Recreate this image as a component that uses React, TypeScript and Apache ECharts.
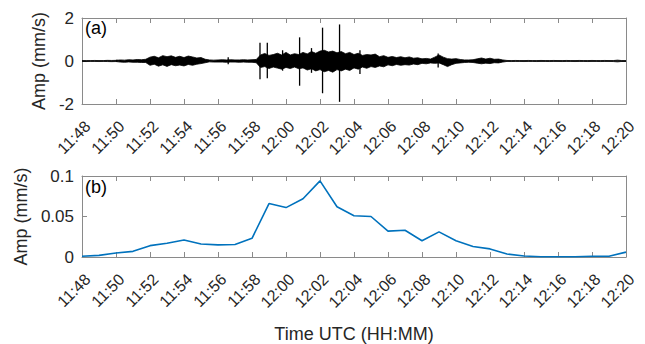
import React, { useEffect, useRef } from "react";
import * as echarts from "echarts";

// x tick labels (every 2 minutes from 11:48)
const tickLabels = [
  "11:48", "11:50", "11:52", "11:54", "11:56", "11:58", "12:00", "12:02", "12:04",
  "12:06", "12:08", "12:10", "12:12", "12:14", "12:16", "12:18", "12:20",
];

// (a) seismogram envelope, one value every 0.25 min from 11:48 (mm/s)
const waveStep = 0.25;
const waveUpper = [
  0.02, 0.02, 0.02, 0.025, 0.02, 0.02, 0.03, 0.025, 0.03,
  0.05, 0.04, 0.06, 0.05, 0.07, 0.06, 0.08,
  0.18, 0.22, 0.15, 0.25, 0.2, 0.24, 0.17, 0.22, 0.16, 0.23, 0.19, 0.14, 0.16, 0.08,
  0.05, 0.04, 0.05, 0.06, 0.05, 0.06, 0.05, 0.05, 0.06, 0.05, 0.06, 0.07,
  0.28, 0.35, 0.26, 0.3, 0.36, 0.28, 0.4, 0.28, 0.34, 0.3,
  0.4, 0.33, 0.44, 0.36, 0.46, 0.5, 0.42, 0.46, 0.38, 0.44,
  0.34, 0.4, 0.3, 0.36, 0.26, 0.3, 0.28, 0.32, 0.2, 0.25,
  0.17, 0.21, 0.16, 0.2, 0.15, 0.19, 0.13, 0.15, 0.1, 0.12,
  0.09, 0.18, 0.28, 0.18, 0.11, 0.09, 0.11, 0.07, 0.05, 0.05,
  0.06, 0.1, 0.14, 0.09, 0.13, 0.08, 0.09, 0.05,
  0.025, 0.02, 0.025, 0.02, 0.02, 0.025, 0.02, 0.02, 0.025, 0.02,
  0.02, 0.025, 0.02, 0.02, 0.025, 0.02, 0.02, 0.025, 0.02, 0.02,
  0.025, 0.02, 0.02, 0.025, 0.02, 0.02, 0.04, 0.02, 0.02,
];
const waveLower = [
  0.02, 0.025, 0.02, 0.02, 0.025, 0.02, 0.025, 0.03, 0.025,
  0.05, 0.06, 0.045, 0.06, 0.06, 0.07, 0.07,
  0.2, 0.15, 0.24, 0.18, 0.25, 0.17, 0.22, 0.19, 0.23, 0.16, 0.2, 0.15, 0.12, 0.08,
  0.04, 0.05, 0.05, 0.05, 0.06, 0.05, 0.05, 0.06, 0.05, 0.06, 0.06, 0.08,
  0.3, 0.26, 0.35, 0.28, 0.33, 0.38, 0.3, 0.35, 0.28, 0.36,
  0.32, 0.42, 0.36, 0.46, 0.4, 0.5, 0.44, 0.52, 0.4, 0.46,
  0.38, 0.44, 0.32, 0.38, 0.28, 0.34, 0.26, 0.3, 0.23, 0.27,
  0.18, 0.22, 0.16, 0.2, 0.17, 0.19, 0.14, 0.17, 0.11, 0.13,
  0.09, 0.11, 0.09, 0.17, 0.26, 0.17, 0.11, 0.09, 0.07, 0.06,
  0.07, 0.1, 0.13, 0.1, 0.12, 0.08, 0.09, 0.05,
  0.02, 0.025, 0.02, 0.02, 0.025, 0.02, 0.02, 0.025, 0.02, 0.02,
  0.025, 0.02, 0.02, 0.025, 0.02, 0.02, 0.025, 0.02, 0.02, 0.025,
  0.02, 0.02, 0.025, 0.02, 0.02, 0.025, 0.04, 0.02, 0.02,
];
// (a) isolated spikes: [minutes since 11:48, max, min]
const waveSpikes = [
  [2.05, 0.06, -0.05],
  [6.8, 0.1, -0.08],
  [8.6, 0.18, -0.15],
  [10.47, 0.85, -0.85],
  [10.9, 0.85, -0.8],
  [11.8, 0.5, -0.45],
  [12.8, 1.1, -1.15],
  [13.5, 0.6, -0.55],
  [14.15, 1.55, -1.5],
  [15.15, 1.7, -1.9],
  [16.35, 0.5, -0.6],
  [20.95, 0.35, -0.3],
];

// (b) amplitude per minute from 11:48 (mm/s)
const ampValues = [
  0.001, 0.002, 0.005, 0.007, 0.014, 0.017, 0.021, 0.016, 0.015, 0.0155, 0.023,
  0.066, 0.061, 0.072, 0.094, 0.062, 0.051, 0.05, 0.032, 0.033, 0.02, 0.031,
  0.02, 0.013, 0.01, 0.0037, 0.0012, 0.0004, 0.0004, 0.0004, 0.001, 0.001, 0.006,
];

const FONT = "'Liberation Sans', Arial, sans-serif";
const BOX = "#8a8a8a";
const TXT = "#262626";

function axisBase(grid: number, min: number, max: number, interval: number, position: string) {
  return {
    gridIndex: grid,
    type: "value",
    min,
    max,
    interval,
    position,
    splitLine: { show: false },
    axisLine: { show: true, onZero: false, lineStyle: { color: BOX, width: 1 } },
    axisTick: { show: true, inside: true, length: 5, lineStyle: { color: BOX, width: 1 } },
  };
}

function xAxes(grid: number, withName: boolean) {
  const bottom: any = {
    ...axisBase(grid, 0, 32, 2, "bottom"),
    axisLabel: {
      rotate: 45,
      fontSize: 16,
      color: TXT,
      fontFamily: FONT,
      margin: 14,
      verticalAlign: "top",
      formatter: (v: number) => tickLabels[Math.round(v / 2)] ?? "",
    },
  };
  if (withName) {
    bottom.name = "Time UTC (HH:MM)";
    bottom.nameLocation = "middle";
    bottom.nameGap = 68;
    bottom.nameTextStyle = { fontSize: 18, color: TXT, fontFamily: FONT };
  }
  const top = { ...axisBase(grid, 0, 32, 2, "top"), axisLabel: { show: false } };
  return [bottom, top];
}

function yAxes(grid: number, min: number, max: number, interval: number, nameGap: number, fmt: (v: number) => string) {
  const left = {
    ...axisBase(grid, min, max, interval, "left"),
    name: "Amp (mm/s)",
    nameLocation: "middle",
    nameGap,
    nameTextStyle: { fontSize: 18, color: TXT, fontFamily: FONT },
    axisLabel: { fontSize: 17, color: TXT, fontFamily: FONT, margin: 8, formatter: fmt },
  };
  const right = { ...axisBase(grid, min, max, interval, "right"), axisLabel: { show: false } };
  return [left, right];
}

export default function App() {
  const ref = useRef<HTMLDivElement>(null);
  useEffect(() => {
    if (!ref.current) return;
    const chart = echarts.init(ref.current, undefined, { renderer: "svg" });
    const upperData = waveUpper.map((v, i) => [i * waveStep, v]);
    const lowerData = waveLower.map((v, i) => [i * waveStep, -v]);
    const option: any = {
      animation: false,
      backgroundColor: "#fff",
      textStyle: { fontFamily: FONT },
      grid: [
        { left: 82, top: 18, width: 544, height: 86 },
        { left: 82, top: 176, width: 544, height: 86 },
      ],
      xAxis: [...xAxes(0, false), ...xAxes(1, true)],
      yAxis: [
        ...yAxes(0, -2, 2, 2, 18, (v) => String(v)),
        ...yAxes(1, 0, 0.1, 0.05, 38, (v) => (v === 0 ? "0" : String(+v.toFixed(2)))),
      ],
      graphic: [
        { type: "text", left: 85, top: 19, style: { text: "(a)", fontSize: 18, fill: "#000", fontFamily: FONT } },
        { type: "text", left: 85, top: 178, style: { text: "(b)", fontSize: 18, fill: "#000", fontFamily: FONT } },
      ],
      series: [
        {
          type: "line",
          xAxisIndex: 0,
          yAxisIndex: 0,
          data: upperData,
          symbol: "none",
          lineStyle: { color: "#000", width: 0.8 },
          areaStyle: { color: "#000", opacity: 1 },
        },
        {
          type: "line",
          xAxisIndex: 0,
          yAxisIndex: 0,
          data: lowerData,
          symbol: "none",
          lineStyle: { color: "#000", width: 0.8 },
          areaStyle: { color: "#000", opacity: 1 },
        },
        {
          type: "custom",
          xAxisIndex: 0,
          yAxisIndex: 0,
          data: waveSpikes,
          encode: { x: 0, y: [1, 2] },
          renderItem: (_p: any, api: any) => {
            const a = api.coord([api.value(0), api.value(1)]);
            const b = api.coord([api.value(0), api.value(2)]);
            return {
              type: "line",
              shape: { x1: a[0], y1: a[1], x2: b[0], y2: b[1] },
              style: { stroke: "#000", lineWidth: 1.3 },
            };
          },
        },
        {
          type: "line",
          xAxisIndex: 2,
          yAxisIndex: 2,
          data: ampValues.map((v, i) => [i, v]),
          symbol: "none",
          lineStyle: { color: "#0072BD", width: 1.6 },
        },
      ],
    };
    chart.setOption(option);
    return () => chart.dispose();
  }, []);
  return <div ref={ref} style={{ position: "fixed", left: 0, top: 0, width: 645, height: 344 }} />;
}
